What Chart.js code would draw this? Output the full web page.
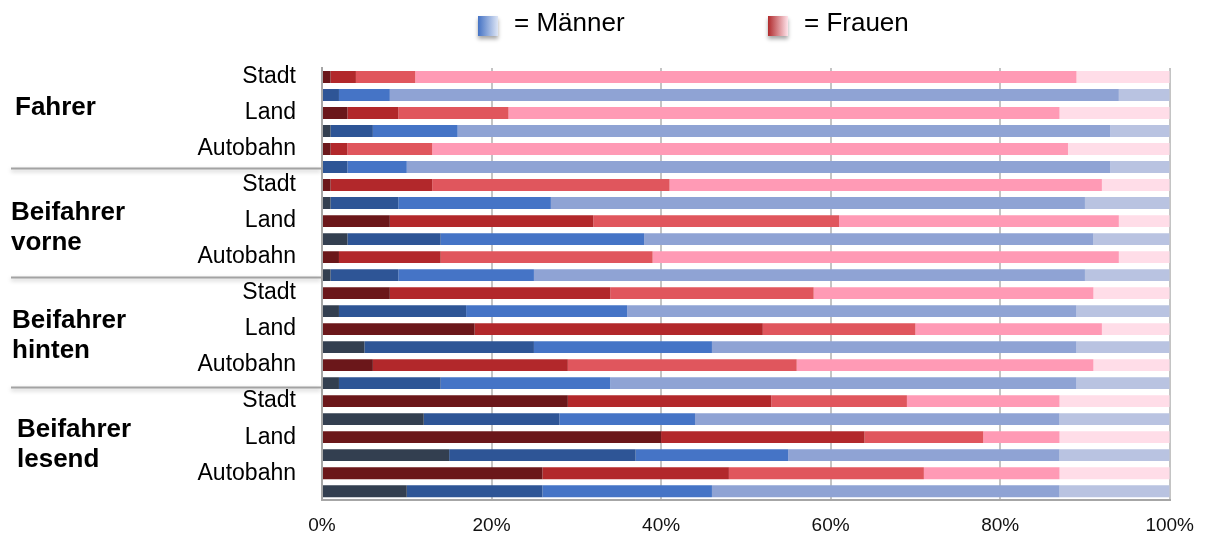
<!DOCTYPE html>
<html lang="de">
<head>
<meta charset="utf-8">
<title>Fahrer / Beifahrer</title>
<script src="https://cdn.jsdelivr.net/npm/chart.js@4.4.1/dist/chart.umd.min.js"></script>
<style>
  html, body { margin: 0; padding: 0; background: #fff; }
  #chart { display: block; }
</style>
</head>
<body>
<canvas id="chart" width="1208" height="540"></canvas>
<script>
// Gruppen, Straßentypen und Geschlecht (je Straße: Frauen-Zeile, dann Männer-Zeile)
const gruppen = ['Fahrer', 'Beifahrer vorne', 'Beifahrer hinten', 'Beifahrer lesend'];
const strassen = ['Stadt', 'Land', 'Autobahn'];
const geschlechter = ['Frauen', 'Männer'];

// Anteile (%) der fünf Stufen je Zeile, von links nach rechts
const stufe1 = [1, 0, 3, 1, 1, 0,   1, 1, 8, 3, 2, 1,   8, 2, 18, 5, 6, 2,   29, 12, 40, 15, 26, 10];
const stufe2 = [3, 2, 6, 5, 2, 3,   12, 8, 24, 11, 12, 8,   26, 15, 34, 20, 23, 12,   24, 16, 24, 22, 22, 16];
const stufe3 = [7, 6, 13, 10, 10, 7,   28, 18, 29, 24, 25, 16,   24, 19, 18, 21, 27, 20,   16, 16, 14, 18, 23, 20];
const stufe4 = [78, 86, 65, 77, 75, 83,   51, 63, 33, 53, 55, 65,   33, 53, 22, 43, 35, 55,   18, 43, 9, 32, 16, 41];
const stufe5 = [11, 6, 13, 7, 12, 7,   8, 10, 6, 9, 6, 10,   9, 11, 8, 11, 9, 11,   13, 13, 13, 13, 13, 13];

// x-Achse
const xTicks = [0, 20, 40, 60, 80, 100];

const frauenFarben = ['#6b171a', '#b2282b', '#e0565d', '#ff9ab5', '#ffdde8'];
const maennerFarben = ['#333f50', '#2e5596', '#4574c6', '#8fa3d4', '#b9c3e1'];

const FONT = '"Liberation Sans", Arial, Helvetica, sans-serif';

// 24 Zeilen aufbauen
const zeilen = [];
gruppen.forEach(g => {
  strassen.forEach(s => {
    geschlechter.forEach(ge => zeilen.push({ gruppe: g, strasse: s, geschlecht: ge }));
  });
});
const labels = zeilen.map(z => `${z.gruppe} ${z.strasse} ${z.geschlecht}`);

const stufen = [stufe1, stufe2, stufe3, stufe4, stufe5];
const datasets = stufen.map((werte, k) => ({
  label: `Stufe ${k + 1}`,
  data: werte,
  backgroundColor: (ctx) => zeilen[ctx.dataIndex].geschlecht === 'Frauen' ? frauenFarben[k] : maennerFarben[k],
  borderWidth: 0,
  categoryPercentage: 1,
  barPercentage: 0.66
}));

/**
 * Gruppenbeschriftung, Trennlinien und Legende
 */
const extrasPlugin = {
  id: 'extras',
  afterDraw(chart) {
    const { ctx } = chart;
    const y = chart.scales.y;
    const left = chart.chartArea.left;

    // Trennlinien zwischen den Gruppen
    [5.05, 11.1, 17.2].forEach(idx => {
      const py = Math.round(y.getPixelForValue(idx)) + 0.5;
      ctx.save();
      ctx.shadowColor = 'rgba(0,0,0,0.25)';
      ctx.shadowBlur = 4;
      ctx.shadowOffsetY = 2;
      ctx.strokeStyle = '#a3a3a3';
      ctx.lineWidth = 2;
      ctx.beginPath();
      ctx.moveTo(11, py);
      ctx.lineTo(left - 1, py);
      ctx.stroke();
      ctx.restore();
    });

    // Gruppennamen (fett, ggf. zweizeilig)
    const gruppenPos = [
      { idx: 1.7, x: 15 },
      { idx: 8.35, x: 11 },
      { idx: 14.4, x: 12 },
      { idx: 20.45, x: 17 }
    ];
    ctx.save();
    ctx.font = `bold 26px ${FONT}`;
    ctx.fillStyle = '#000';
    ctx.textAlign = 'left';
    ctx.textBaseline = 'middle';
    gruppen.forEach((g, i) => {
      const teile = g.split(' ');
      const cy = y.getPixelForValue(gruppenPos[i].idx);
      const zeilenAbstand = 30;
      teile.forEach((t, j) => {
        const off = (j - (teile.length - 1) / 2) * zeilenAbstand;
        ctx.fillText(t, gruppenPos[i].x, cy + off);
      });
    });
    ctx.restore();

    // Legende oben
    const legende = [
      { text: '= Männer', x: 478, farben: ['#4472c4', '#dde5f5'] },
      { text: '= Frauen', x: 768, farben: ['#b02a2c', '#ffe3ea'] }
    ];
    legende.forEach(l => {
      ctx.save();
      const grad = ctx.createLinearGradient(l.x, 0, l.x + 20, 0);
      grad.addColorStop(0, l.farben[0]);
      grad.addColorStop(1, l.farben[1]);
      ctx.shadowColor = 'rgba(0,0,0,0.35)';
      ctx.shadowBlur = 4;
      ctx.shadowOffsetY = 3;
      ctx.fillStyle = grad;
      ctx.fillRect(l.x, 16, 20, 20);
      ctx.restore();

      ctx.save();
      ctx.font = `26px ${FONT}`;
      ctx.fillStyle = '#000';
      ctx.textAlign = 'left';
      ctx.textBaseline = 'middle';
      ctx.fillText(l.text, l.x + 36, 24);
      ctx.restore();
    });
  }
};

new Chart(document.getElementById('chart').getContext('2d'), {
  type: 'bar',
  data: { labels, datasets },
  options: {
    responsive: false,
    animation: false,
    indexAxis: 'y',
    layout: { padding: { top: 68, right: 37, bottom: 0, left: 0 } },
    plugins: {
      legend: { display: false },
      tooltip: { enabled: false }
    },
    scales: {
      x: {
        stacked: true,
        min: 0,
        max: 100,
        afterBuildTicks: (scale) => {
          scale.ticks = xTicks.map(v => ({ value: v }));
        },
        afterFit: (scale) => { scale.height = 34; },
        grid: { color: '#c4c4c4', lineWidth: 2, drawTicks: false },
        border: { display: true, color: '#a6a6a6', width: 2 },
        ticks: {
          color: '#111',
          font: { family: FONT, size: 19 },
          padding: 14,
          callback: (v) => `${v}%`
        }
      },
      y: {
        stacked: true,
        afterFit: (scale) => { scale.width = 322; },
        grid: { display: false, drawTicks: false },
        border: { display: true, color: '#a6a6a6', width: 2 },
        ticks: {
          autoSkip: false,
          color: '#000',
          font: { family: FONT, size: 23 },
          padding: 26,
          callback: (v, i) => zeilen[i].geschlecht === 'Frauen' ? zeilen[i].strasse : ''
        }
      }
    }
  },
  plugins: [extrasPlugin]
});
</script>
</body>
</html>
